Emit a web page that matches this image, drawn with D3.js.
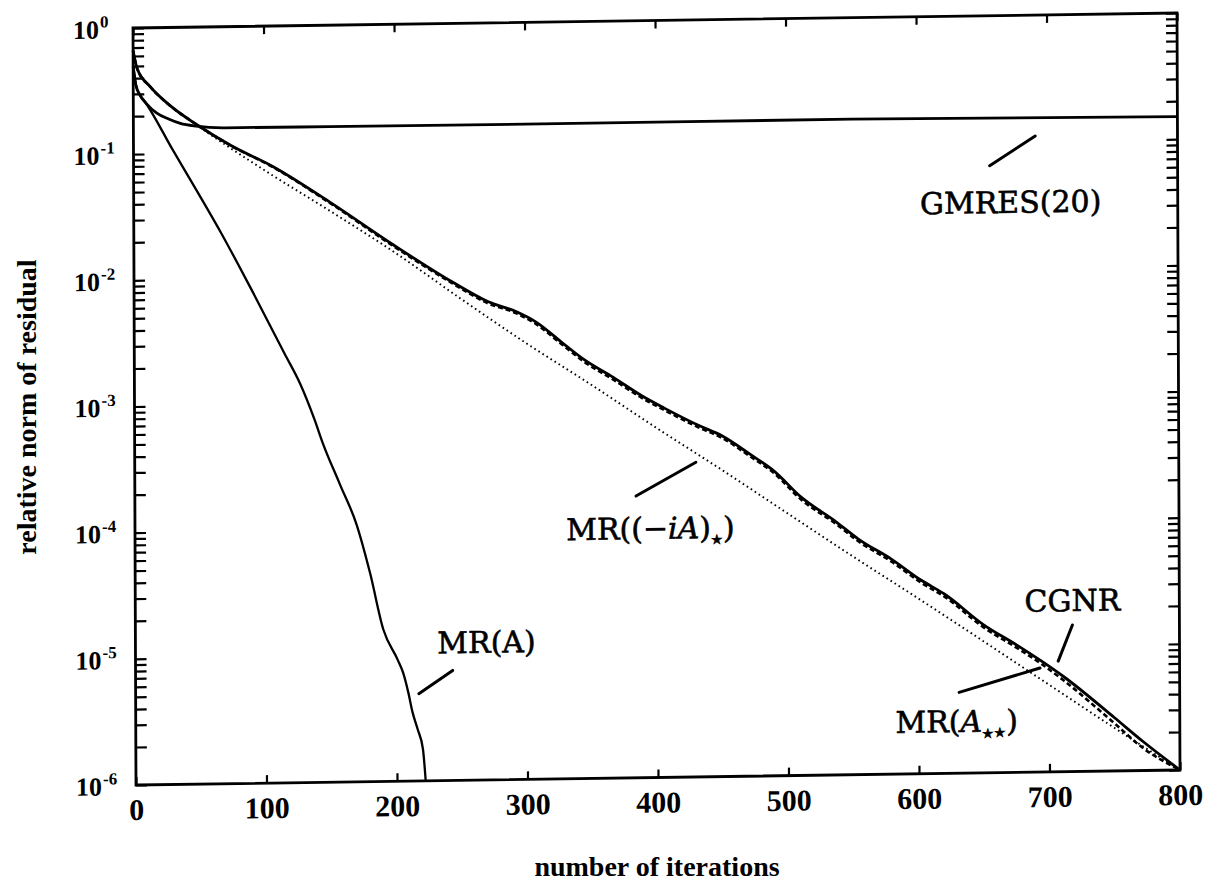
<!DOCTYPE html>
<html><head><meta charset="utf-8">
<script src="https://cdn.jsdelivr.net/npm/d3@7"></script>
<style>body{margin:0;background:#fff}</style>
</head><body>
<svg id="chart" width="1214" height="886"></svg>
<script>
// ---------- data ----------
const xTickValues = [0,100,200,300,400,500,600,700,800];
const yDecades = [1,1e-1,1e-2,1e-3,1e-4,1e-5,1e-6];
const yExponents = ["0","-1","-2","-3","-4","-5","-6"];

const cgnrIter = [0,3,13,28,49,74,107,150,199,244,271,293,308,328,345,367,389,406,432,450,472,489,511,537,554,580,602,620,650,676,694,711,750,772,800];
const cgnrRes  = [0.661,0.479,0.341,0.241,0.1675,0.1153,0.0767,0.0398,0.0178,0.00891,0.00619,0.00509,0.0042,0.00286,0.00208,0.0015,0.00106,0.000845,0.000612,0.000502,0.000353,0.000265,0.000159,0.000102,7.4e-5,5.02e-5,3.43e-5,2.64e-5,1.49e-5,1.01e-5,7.59e-6,5.68e-6,2.64e-6,1.69e-6,1.0e-6];

const mrAssIter = [0,3,13,28,49,74,107,150,199,244,271,293,308,328,345,367,389,406,432,450,472,489,511,537,554,580,602,620,650,676,694,711,750,772,800];
const mrAssRes  = [0.661,0.479,0.341,0.241,0.1675,0.115,0.076,0.0392,0.0174,0.0087,0.006,0.00495,0.00405,0.00276,0.002,0.00144,0.00102,0.000815,0.00059,0.000484,0.00034,0.000255,0.000152,9.8e-5,7.1e-5,4.8e-5,3.28e-5,2.52e-5,1.42e-5,9.6e-6,7.2e-6,5.3e-6,2.38e-6,1.5e-6,1.0e-6];

const mrIaIter = [0,3,13,28,49,100,150,200,250,300,350,400,450,500,550,600,650,700,750,800];
const mrIaRes  = [0.661,0.479,0.341,0.241,0.166,0.0724,0.0339,0.0155,0.0066,0.00288,0.00132,0.000589,0.000269,0.00012,5.37e-5,2.45e-5,1.1e-5,4.9e-6,2.19e-6,1.0e-6];

const gmresIter = [0,2,5,10,18,27,36,48,70,150,300,550,800];
const gmresRes  = [0.5,0.355,0.295,0.251,0.21,0.188,0.173,0.164,0.158,0.157,0.156,0.157,0.151];

const mrAIter = [0,2,5,8,30,50,67,90,115,127,138,144,157,170,180,190,201,205,209,212,216,220,222];
const mrARes  = [0.5,0.355,0.295,0.268,0.1074,0.0472,0.0231,0.00818,0.00254,0.00145,0.000746,0.000493,0.000231,0.000108,4.5e-5,1.6e-5,9.12e-6,7.24e-6,5.0e-6,3.55e-6,2.57e-6,1.78e-6,1.0e-6];

// annotation anchors in data coordinates [iteration, residual]
const annoGmres  = {at:[672,0.0272],  from:[656,0.0647],  to:[691,0.110]};
const annoMrIa   = {at:[395,7.78e-5], from:[384,1.71e-4], to:[430,3.12e-4]};
const annoMrA    = {at:[269,1.02e-5], from:[217,4.91e-6], to:[243,7.45e-6]};
const annoCgnr   = {at:[718,1.87e-5], from:[718,1.45e-5], to:[707,7.53e-6]};
const annoMrAss  = {at:[629,2.12e-6], from:[631,4.37e-6], to:[693,6.67e-6]};

// ---------- drawing ----------
const W = 1044, H = 757;
const svg = d3.select("#chart");
const g = svg.append("g").attr("transform","matrix(1,-0.01437,0.00396,1,133,28)");

const x = d3.scaleLinear().domain([0,800]).range([0,W]);
const y = d3.scaleLog().domain([1e-6,1]).range([H,0]);

const tickFont = "'Liberation Serif','Times New Roman',serif";
const annoFont = "'DejaVu Serif',serif";

// axes (ticks inward)
const axBottom = g.append("g").attr("transform",`translate(0,${H})`)
  .call(d3.axisBottom(x).tickValues(xTickValues).tickSize(-8).tickSizeOuter(0).tickFormat(d3.format("d")));
const axTop = g.append("g")
  .call(d3.axisTop(x).tickValues(xTickValues).tickSize(-8).tickSizeOuter(0).tickFormat(""));
const axLeft = g.append("g")
  .call(d3.axisLeft(y).tickValues(y.ticks()).tickSize(-11).tickSizeOuter(0).tickFormat(""));
const axRight = g.append("g").attr("transform",`translate(${W},0)`)
  .call(d3.axisRight(y).tickValues(y.ticks()).tickSize(-11).tickSizeOuter(0).tickFormat(""));
[axBottom,axTop,axLeft,axRight].forEach(a=>{
  a.select(".domain").remove();
  a.selectAll(".tick line").attr("stroke","#000").attr("stroke-width",2.2);
});
axBottom.selectAll(".tick text")
  .attr("y",35).attr("dy",null)
  .attr("font-family",tickFont).attr("font-weight","bold").attr("font-size",30).attr("fill","#000");

// y decade labels
const yl = g.append("g").selectAll("text").data(yDecades).join("text")
  .attr("x",-60).attr("y",d=>y(d)+10)
  .attr("font-family",tickFont).attr("font-weight","bold").attr("font-size",26).attr("fill","#000");
yl.append("tspan").text("10");
yl.append("tspan").attr("font-size",17).attr("dy",-11).attr("dx",1).text((d,i)=>yExponents[i]);

// frame
g.append("rect").attr("x",0).attr("y",0).attr("width",W).attr("height",H)
  .attr("fill","none").attr("stroke","#000").attr("stroke-width",2.8);

// series
const line = d3.line().x(d=>x(d[0])).y(d=>y(d[1])).curve(d3.curveMonotoneX);
const zip = (a,b)=>a.map((v,i)=>[v,b[i]]);
const series = [
  {it:mrIaIter,  r:mrIaRes,  w:1.9, dash:"1.6,3.2"},
  {it:gmresIter, r:gmresRes, w:2.8, dash:null},
  {it:mrAIter,   r:mrARes,   w:2.3, dash:null},
  {it:cgnrIter,  r:cgnrRes,  w:2.8, dash:null},
  {it:mrAssIter, r:mrAssRes, w:2.6, dash:"5,3"}
];
g.append("g").selectAll("path").data(series).join("path")
  .attr("d",s=>line(zip(s.it,s.r)))
  .attr("fill","none").attr("stroke","#000")
  .attr("stroke-width",s=>s.w)
  .attr("stroke-dasharray",s=>s.dash)
  .attr("stroke-linejoin","round");

// annotation pointers
const annos = [annoGmres,annoMrIa,annoMrA,annoCgnr,annoMrAss];
g.append("g").selectAll("line").data(annos).join("line")
  .attr("x1",a=>x(a.from[0])).attr("y1",a=>y(a.from[1]))
  .attr("x2",a=>x(a.to[0])).attr("y2",a=>y(a.to[1]))
  .attr("stroke","#000").attr("stroke-width",3).attr("stroke-linecap","round");

function label(a){
  return g.append("text").attr("x",x(a.at[0])).attr("y",y(a.at[1]))
    .attr("text-anchor","middle").attr("font-family",annoFont)
    .attr("font-size",30).attr("fill","#000")
    .attr("stroke","#000").attr("stroke-width",0.6);
}
label(annoGmres).text("GMRES(20)");
label(annoMrA).text("MR(A)");
label(annoCgnr).text("CGNR");
{
  const t = label(annoMrIa);
  t.append("tspan").text("MR((\u2212");
  t.append("tspan").attr("font-style","italic").text("iA");
  t.append("tspan").text(")");
  t.append("tspan").attr("font-size",13).attr("dy",6).text("\u2605");
  t.append("tspan").attr("dy",-6).text(")");
}
{
  const t = label(annoMrAss);
  t.append("tspan").text("MR(");
  t.append("tspan").attr("font-style","italic").text("A");
  t.append("tspan").attr("font-size",13).attr("dy",6).text("\u2605\u2605");
  t.append("tspan").attr("dy",-6).text(")");
}

// axis titles
svg.append("text").attr("x",657).attr("y",876).attr("text-anchor","middle")
  .attr("font-family",tickFont).attr("font-weight","bold").attr("font-size",28)
  .text("number of iterations");
svg.append("text").attr("transform","translate(36,407) rotate(-90)").attr("text-anchor","middle")
  .attr("font-family",tickFont).attr("font-weight","bold").attr("font-size",28)
  .text("relative norm of residual");
</script>
</body></html>
